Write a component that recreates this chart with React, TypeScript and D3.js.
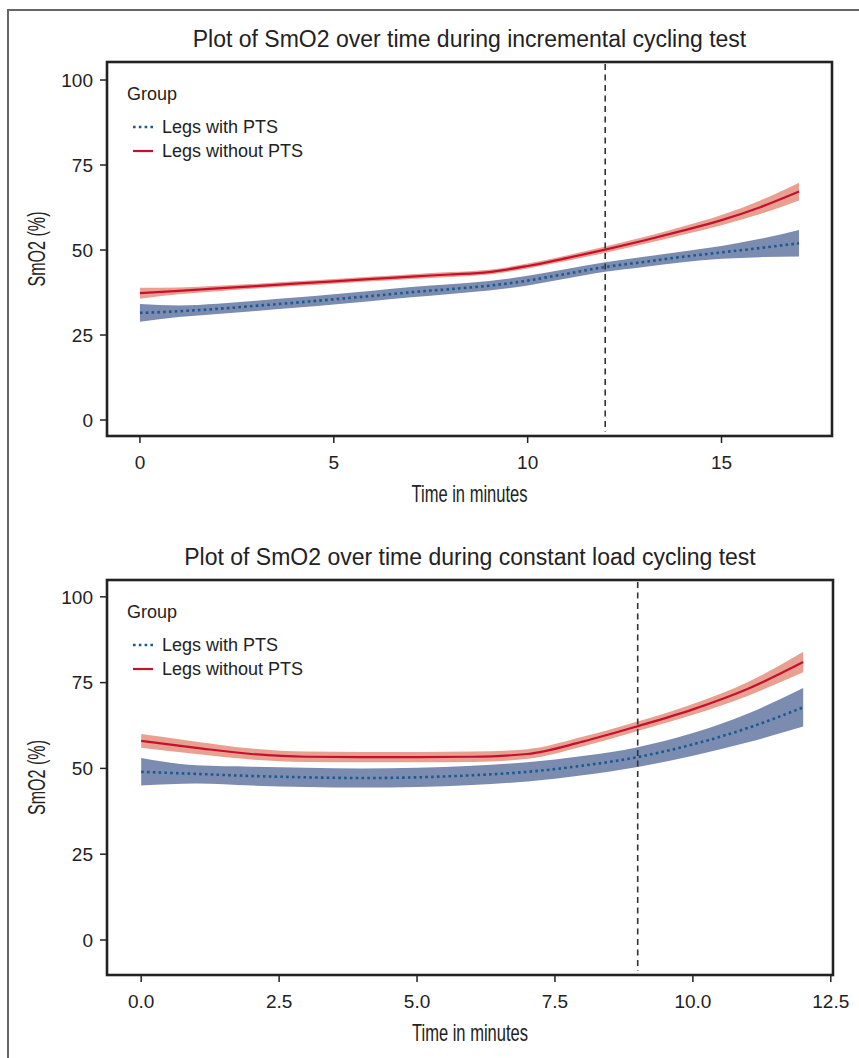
import React, { useEffect } from "react";
import * as d3 from "d3";

// incremental test (minutes 0..17)
const incTime = [0, 1, 2, 3, 4, 5, 6, 7, 8, 9, 10, 11, 12, 13, 14, 15, 16, 17];
const incWith = [31.5, 32.0, 32.7, 33.6, 34.5, 35.5, 36.5, 37.6, 38.5, 39.5, 41.0, 43.0, 45.0, 46.5, 48.0, 49.3, 50.6, 52.0];
const incWithHi = [34.1, 33.7, 34.2, 35.1, 36.0, 37.0, 38.0, 39.1, 39.9, 40.9, 42.4, 44.4, 46.4, 48.0, 49.6, 51.2, 53.3, 55.9];
const incWithLo = [28.9, 30.3, 31.2, 32.1, 33.0, 34.0, 35.0, 36.1, 37.1, 38.1, 39.6, 41.6, 43.6, 45.0, 46.4, 47.4, 47.9, 48.1];
const incWithout = [37.3, 38.0, 38.7, 39.4, 40.1, 40.8, 41.5, 42.2, 42.8, 43.5, 45.3, 47.6, 50.1, 52.8, 55.7, 58.8, 62.6, 67.2];
const incWithoutHi = [38.9, 39.0, 39.5, 40.1, 40.8, 41.5, 42.2, 42.9, 43.5, 44.2, 46.0, 48.4, 51.0, 53.8, 56.9, 60.3, 64.6, 69.8];
const incWithoutLo = [35.7, 37.0, 37.9, 38.7, 39.4, 40.1, 40.8, 41.5, 42.1, 42.8, 44.6, 46.8, 49.2, 51.8, 54.5, 57.3, 60.6, 64.6];

// constant load test (minutes 0..12)
const conTime = [0, 1, 2, 3, 4, 5, 6, 7, 8, 9, 10, 11, 12];
const conWith = [49.0, 48.4, 47.8, 47.4, 47.2, 47.4, 48.0, 49.0, 50.8, 53.3, 57.0, 61.8, 67.8];
const conWithHi = [53.0, 50.9, 50.5, 50.2, 50.0, 50.2, 50.8, 51.8, 53.6, 56.2, 60.3, 66.0, 73.4];
const conWithLo = [45.0, 45.6, 45.0, 44.6, 44.4, 44.6, 45.2, 46.2, 48.0, 50.4, 53.7, 57.6, 62.2];
const conWithout = [58.0, 56.0, 54.2, 53.4, 53.3, 53.3, 53.4, 54.2, 57.8, 62.3, 67.2, 73.2, 81.0];
const conWithoutHi = [60.0, 57.8, 55.8, 54.9, 54.8, 54.8, 54.9, 55.6, 59.2, 63.7, 68.8, 75.2, 84.0];
const conWithoutLo = [56.0, 54.2, 52.6, 51.9, 51.8, 51.8, 51.9, 52.8, 56.4, 60.9, 65.6, 71.2, 78.0];

const yTicks = [0, 25, 50, 75, 100];
const incXTicks = [0, 5, 10, 15];
const conXTicks = [0, 2.5, 5, 7.5, 10, 12.5];
const groups = ["Legs with PTS", "Legs without PTS"];

const RED = "#c8102e";
const RED_BAND = "#e8a090";
const BLUE = "#1b5a8e";
const BLUE_BAND = "#7b8cb0";
const INK = "#222";
const FONT = "'Liberation Sans', Arial, Helvetica, sans-serif";

type Panel = {
  title: string;
  box: { x0: number; x1: number; y0: number; y1: number };
  xDomain: [number, number];
  yDomain: [number, number];
  xTicks: number[];
  fmt: (d: number) => string;
  vline: number;
  time: number[];
  withM: number[]; withHi: number[]; withLo: number[];
  woM: number[]; woHi: number[]; woLo: number[];
};

const panels: Panel[] = [
  {
    title: "Plot of SmO2 over time during incremental cycling test",
    box: { x0: 107, x1: 832, y0: 62, y1: 436 },
    xDomain: [-0.85, 17.85],
    yDomain: [-4.7, 105.3],
    xTicks: incXTicks,
    fmt: (d) => String(d),
    vline: 12,
    time: incTime,
    withM: incWith, withHi: incWithHi, withLo: incWithLo,
    woM: incWithout, woHi: incWithoutHi, woLo: incWithoutLo,
  },
  {
    title: "Plot of SmO2 over time during constant load cycling test",
    box: { x0: 107, x1: 833, y0: 580, y1: 975 },
    xDomain: [-0.62, 12.54],
    yDomain: [-10.2, 104.9],
    xTicks: conXTicks,
    fmt: d3.format(".1f"),
    vline: 9,
    time: conTime,
    withM: conWith, withHi: conWithHi, withLo: conWithLo,
    woM: conWithout, woHi: conWithoutHi, woLo: conWithoutLo,
  },
];

function PlotPanel({ p }: { p: Panel }) {
  const { box } = p;
  const x = d3.scaleLinear().domain(p.xDomain).range([box.x0, box.x1]);
  const y = d3.scaleLinear().domain(p.yDomain).range([box.y1, box.y0]);
  const idx = p.time.map((_, i) => i);
  const curve = d3.curveMonotoneX;

  const band = (lo: number[], hi: number[]) =>
    d3.area<number>().x((i) => x(p.time[i])).y0((i) => y(lo[i])).y1((i) => y(hi[i])).curve(curve)(idx) || "";
  const line = (m: number[]) =>
    d3.line<number>().x((i) => x(p.time[i])).y((i) => y(m[i])).curve(curve)(idx) || "";

  const cx = (box.x0 + box.x1) / 2;
  const cy = (box.y0 + box.y1) / 2;

  return (
    <g fontFamily={FONT}>
      <text x={cx} y={box.y0 - 15} textAnchor="middle" fontSize={23} fill={INK}>{p.title}</text>

      <path d={band(p.woLo, p.woHi)} fill={RED_BAND} />
      <path d={band(p.withLo, p.withHi)} fill={BLUE_BAND} />
      <path d={line(p.woM)} fill="none" stroke={RED} strokeWidth={2.2} />
      <path d={line(p.withM)} fill="none" stroke={BLUE} strokeWidth={2.6} strokeDasharray="2.6,3.2" />

      <line x1={x(p.vline)} x2={x(p.vline)} y1={box.y0 + 2} y2={box.y1 - 4} stroke="#333" strokeWidth={1.6} strokeDasharray="6,4.5" />

      <rect x={box.x0} y={box.y0} width={box.x1 - box.x0} height={box.y1 - box.y0} fill="none" stroke={INK} strokeWidth={2.6} />

      {yTicks.map((t) => (
        <g key={"y" + t}>
          <line x1={box.x0 - 7} x2={box.x0} y1={y(t)} y2={y(t)} stroke={INK} strokeWidth={1.5} />
          <text x={box.x0 - 14} y={y(t)} dy="0.36em" textAnchor="end" fontSize={19} fill={INK}>{t}</text>
        </g>
      ))}
      {p.xTicks.map((t) => (
        <g key={"x" + t}>
          <line x1={x(t)} x2={x(t)} y1={box.y1} y2={box.y1 + 7} stroke={INK} strokeWidth={1.5} />
          <text x={x(t)} y={box.y1 + 32.5} textAnchor="middle" fontSize={19} fill={INK}>{p.fmt(t)}</text>
        </g>
      ))}

      <text x={cx} y={box.y1 + 66} textAnchor="middle" fontSize={24} fill={INK}
        textLength={116} lengthAdjust="spacingAndGlyphs">Time in minutes</text>
      <text transform={`translate(${box.x0 - 62},${cy}) rotate(-90)`} textAnchor="middle" fontSize={23} fill={INK}
        textLength={75} lengthAdjust="spacingAndGlyphs">SmO2 (%)</text>

      <text x={box.x0 + 20} y={box.y0 + 37.5} fontSize={18} fill={INK}>Group</text>
      {groups.map((g, i) => {
        const ly = box.y0 + 65 + i * 24;
        return (
          <g key={g}>
            <line x1={box.x0 + 26} x2={box.x0 + 46} y1={ly} y2={ly}
              stroke={i === 0 ? BLUE : RED} strokeWidth={i === 0 ? 2.6 : 2.2}
              strokeDasharray={i === 0 ? "2.6,3.2" : undefined} />
            <text x={box.x0 + 55} y={ly} dy="0.36em" fontSize={18} fill={INK}>{g}</text>
          </g>
        );
      })}
    </g>
  );
}

export default function App() {
  useEffect(() => {
    document.body.style.margin = "0";
  }, []);
  return (
    <svg width={859} height={1058} style={{ display: "block", background: "#fff" }}>
      <rect x={8} y={10} width={900} height={1100} fill="none" stroke="#666" strokeWidth={2} />
      {panels.map((p, i) => (
        <PlotPanel key={i} p={p} />
      ))}
    </svg>
  );
}
